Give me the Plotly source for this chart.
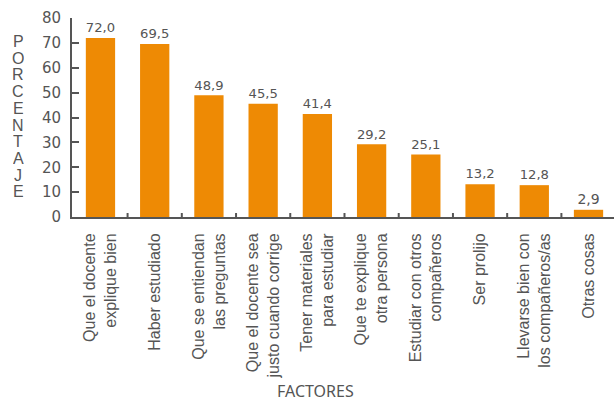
import plotly.graph_objects as go

# Factors students consider important, with percentage of responses
factores = [
    "Que el docente<br>explique bien",
    "Haber estudiado",
    "Que se entiendan<br>las preguntas",
    "Que el docente sea<br>justo cuando corrige",
    "Tener materiales<br>para estudiar",
    "Que te explique<br>otra persona",
    "Estudiar con otros<br>compañeros",
    "Ser prolijo",
    "Llevarse bien con<br>los compañeros/as",
    "Otras cosas",
]
porcentaje = [72.0, 69.5, 48.9, 45.5, 41.4, 29.2, 25.1, 13.2, 12.8, 2.9]
y_ticks = [0, 10, 20, 30, 40, 50, 60, 70, 80]
y_title = "PORCENTAJE"
x_title = "FACTORES"

GREY = "#555555"
ORANGE = "#EE8A04"
LABEL_FONT = "Liberation Sans, Arial, sans-serif"

L, T, B, W, H = 72, 18, 186, 614, 403
PW, PH = W - L, H - T - B

fig = go.Figure(
    go.Bar(
        x=list(range(len(factores))),
        y=porcentaje,
        marker=dict(color=ORANGE, line=dict(width=0)),
        texttemplate="%{y:.1f}",
        textposition="outside",
        textfont=dict(family="DejaVu Sans", size=14, color=GREY),
        cliponaxis=False,
        width=0.54,
    )
)

fig.update_layout(
    width=W,
    height=H,
    margin=dict(l=L, r=0, t=T, b=B),
    paper_bgcolor="white",
    plot_bgcolor="white",
    separators=",.",
    showlegend=False,
    xaxis=dict(
        range=[-0.525, 9.47],
        tickmode="array",
        tickvals=list(range(len(factores))),
        ticktext=factores,
        tickangle=-90,
        ticks="",
        showline=True,
        linecolor=GREY,
        linewidth=2,
        showgrid=False,
        zeroline=False,
        tickfont=dict(family=LABEL_FONT, size=16, color=GREY),
        ticklabelstandoff=8,
    ),
    yaxis=dict(
        range=[0, 80],
        tickvals=y_ticks,
        ticks="inside",
        ticklen=7,
        tickwidth=2,
        tickcolor=GREY,
        showline=True,
        linecolor=GREY,
        linewidth=2,
        showgrid=False,
        zeroline=False,
        tickfont=dict(family="DejaVu Sans", size=15, color=GREY),
        ticklabelstandoff=6,
    ),
)

# Small tick marks between the bars along the baseline
for i in range(len(factores)):
    fig.add_shape(
        type="line", xref="x", yref="paper",
        x0=i + 0.5, x1=i + 0.5, y0=0, y1=0.02,
        line=dict(color=GREY, width=2),
    )

# Vertical stacked axis title
for k, ch in enumerate(y_title):
    ypix = 41 + k * 16.7
    fig.add_annotation(
        text=ch, xref="paper", yref="paper",
        x=(18 - L) / PW, y=1 - (ypix - T) / PH,
        showarrow=False, xanchor="center", yanchor="middle",
        height=16,
        font=dict(family=LABEL_FONT, size=16, color=GREY),
    )

fig.add_annotation(
    text=x_title, xref="paper", yref="paper",
    x=(315 - L) / PW, y=1 - (391 - T) / PH,
    showarrow=False, xanchor="center", yanchor="middle",
    font=dict(family="Noto Sans", size=16, color=GREY),
)

fig.write_html("out.html")
